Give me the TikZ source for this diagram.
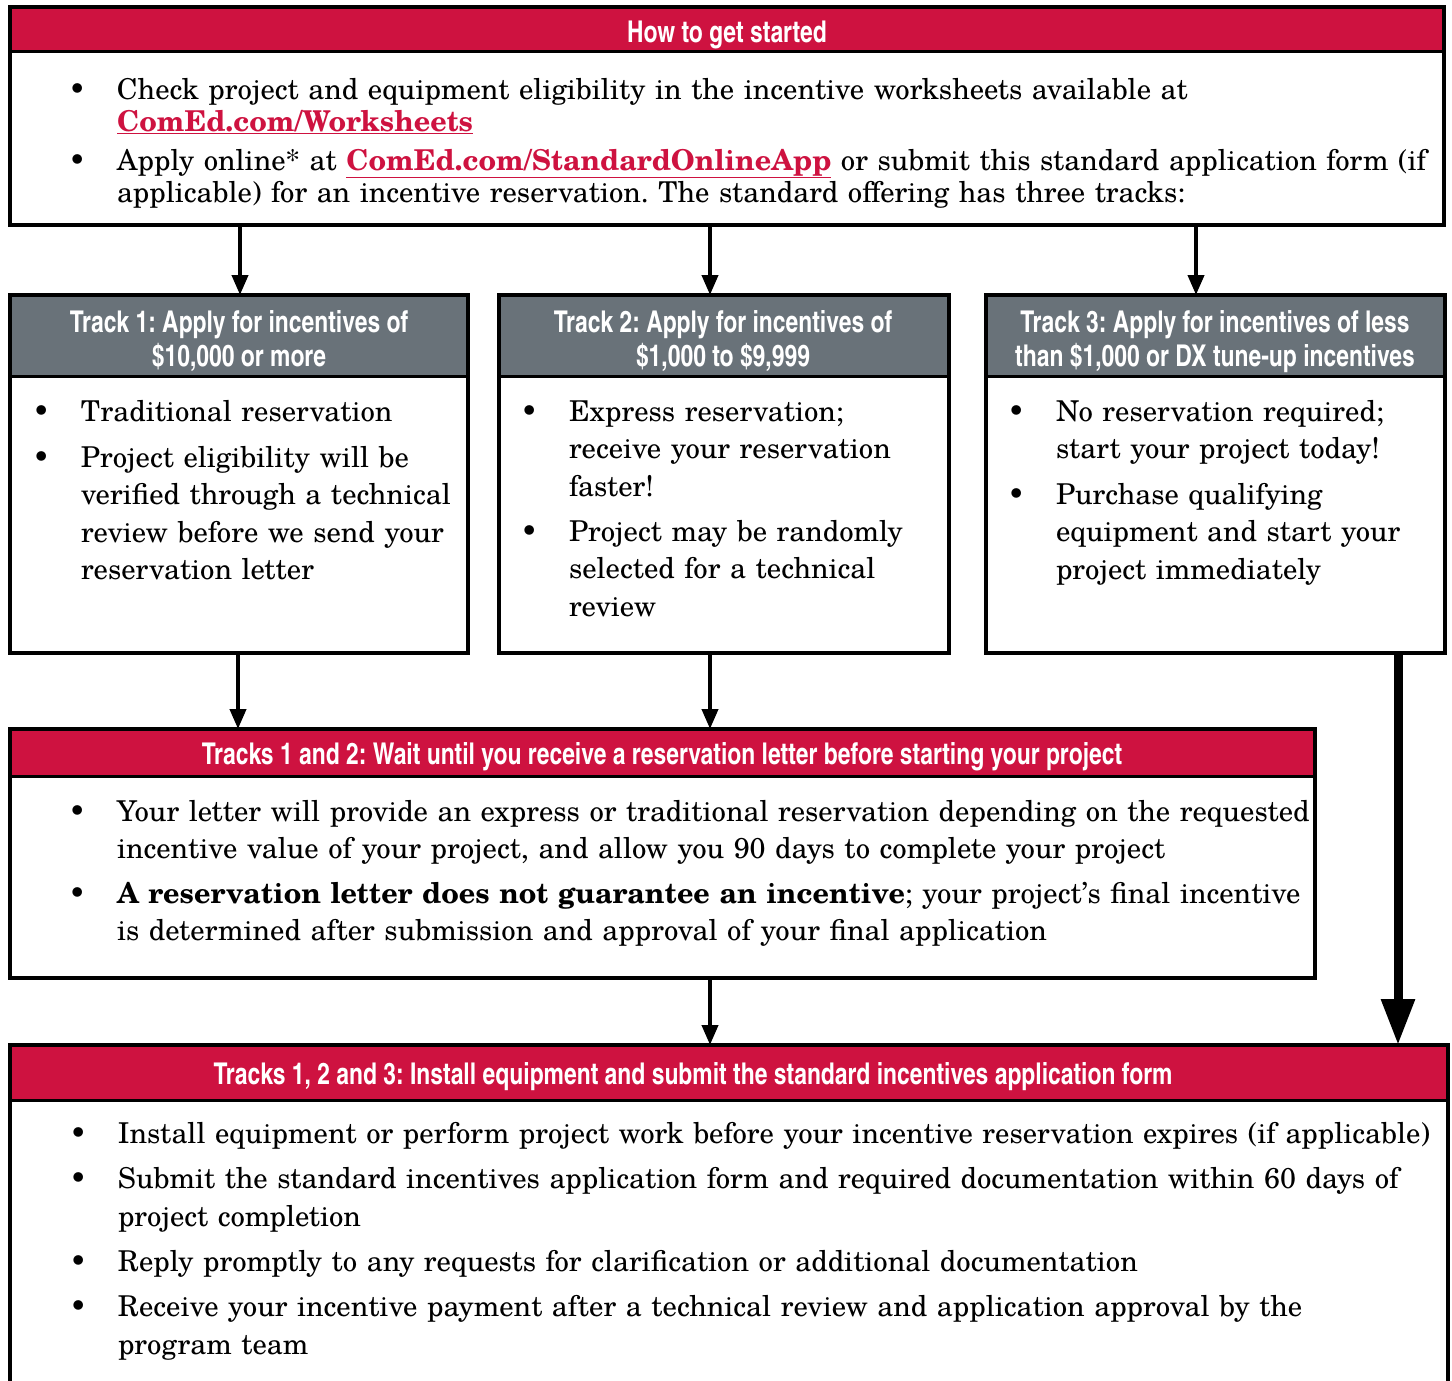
\documentclass[tikz,border=0pt]{standalone}
\usepackage{fontspec}
\setmainfont{texgyreschola}[Extension=.otf, UprightFont=*-regular, BoldFont=*-bold, ItalicFont=*-italic, BoldItalicFont=*-bolditalic]
\newfontfamily\hdrfont{texgyreheroscn}[Extension=.otf, UprightFont=*-bold, FakeStretch=0.93]
\usetikzlibrary{arrows.meta}
\definecolor{crimson}{RGB}{206,18,64}
\definecolor{slate}{RGB}{105,114,121}
\newcommand\comedlink[1]{\textcolor{crimson}{\bfseries\underline{#1}}}
\newcommand\bul{\leavevmode\llap{\textbullet\hspace{31pt}}}
\newcommand\hdrband[3]{%
  \fill[#3] (#1.north west) rectangle ([yshift=-#2pt]#1.north east);
  \draw[line width=3pt] ([yshift=-#2pt]#1.north west) -- ([yshift=-#2pt]#1.north east);
  \draw[line width=4pt] (#1.north west) rectangle (#1.south east);}
\frenchspacing
\begin{document}
\frenchspacing
\begin{tikzpicture}[x=1pt,y=-1pt,
  box/.style={draw, line width=4pt, fill=white, rectangle, anchor=north west, inner sep=0pt, outer sep=0pt},
  hdr/.style={anchor=north, inner sep=0pt, outer sep=0pt, align=center, text=white, font=\hdrfont\frenchspacing\fontsize{30}{31}\selectfont},
  body/.style={anchor=north west, inner sep=0pt, outer sep=0pt, text width=1380pt, align=left, font=\frenchspacing\fontsize{28.7}{37.5}\selectfont},
  arr/.style={line width=4pt, -{Triangle[length=20pt,width=16pt]}},
  bigarr/.style={line width=9pt, -{Triangle[length=46pt,width=32pt]}}]
\useasboundingbox (0,0) rectangle (1452,1381);

% boxes
\node[box, minimum width=1434pt, minimum height=218pt] (top) at (10,7) {};
\hdrband{top}{45}{crimson}
\node[box, minimum width=458pt, minimum height=358pt] (t1) at (10,295) {};
\hdrband{t1}{81}{slate}
\node[box, minimum width=450pt, minimum height=358pt] (t2) at (499,295) {};
\hdrband{t2}{81}{slate}
\node[box, minimum width=459pt, minimum height=358pt] (t3) at (986,295) {};
\hdrband{t3}{81}{slate}
\node[box, minimum width=1305pt, minimum height=249pt] (t12) at (10,729) {};
\hdrband{t12}{47}{crimson}
\node[box, minimum width=1438pt, minimum height=350pt] (bot) at (10,1045) {};
\hdrband{bot}{55}{crimson}

% headers
\node[hdr] (htop) at (727,20.8) {\strut How to get started};
\node[hdr] (ht1) at (239,310.8) {\strut Track 1: Apply for incentives of\\ \$10,000 or more};
\node[hdr] (ht2) at (723,310.8) {\strut Track 2: Apply for incentives of\\ \$1,000 to \$9,999};
\node[hdr] (ht3) at (1215,310.8) {\strut Track 3: Apply for incentives of less\\ than \$1,000 or DX tune-up incentives};
\node[hdr] (ht12) at (662,742.8) {\strut Tracks 1 and 2: Wait until you receive a reservation letter before starting your project};
\node[hdr] (hbot) at (693,1062.8) {\strut Tracks 1, 2 and 3: Install equipment and submit the standard incentives application form};

% top box text
\node[body, font=\fontsize{28.7}{32}\selectfont] (a1) at (117,77.3) {\bul\strut Check project and equipment eligibility in the incentive worksheets available at\\ \comedlink{ComEd.com/Worksheets}};
\node[body, font=\fontsize{28.7}{32}\selectfont] (a2) at (117,148) {\bul\strut Apply online* at \comedlink{ComEd.com/StandardOnlineApp} or submit this standard application form (if\\ applicable) for an incentive reservation. The standard offering has three tracks:};

% track 1
\node[body] (b1) at (81,395) {\bul\strut Traditional reservation};
\node[body] (b2) at (81,441) {\bul\strut Project eligibility will be\\ verified through a technical\\ review before we send your\\ reservation letter};
% track 2
\node[body] (c1) at (569,395) {\bul\strut Express reservation;\\ receive your reservation\\ faster!};
\node[body] (c2) at (569,515) {\bul\strut Project may be randomly\\ selected for a technical\\ review};
% track 3
\node[body] (d1) at (1056,395) {\bul\strut No reservation required;\\ start your project today!};
\node[body] (d2) at (1056,478) {\bul\strut Purchase qualifying\\ equipment and start your\\ project immediately};

% tracks 1 and 2
\node[body, font=\fontsize{28.7}{37}\selectfont] (e1) at (117,795.4) {\bul\strut Your letter will provide an express or traditional reservation depending on the requested\\ incentive value of your project, and allow you 90 days to complete your project};
\node[body, font=\fontsize{28.7}{37}\selectfont] (e2) at (117,877.4) {\bul\strut \textbf{A reservation letter does not guarantee an incentive}; your project’s final incentive\\ is determined after submission and approval of your final application};

% bottom
\node[body, font=\fontsize{28.7}{38}\selectfont] (f1) at (118,1116.8) {\bul\strut Install equipment or perform project work before your incentive reservation expires (if applicable)};
\node[body, font=\fontsize{28.7}{38}\selectfont] (f2) at (118,1161.8) {\bul\strut Submit the standard incentives application form and required documentation within 60 days of\\ project completion};
\node[body, font=\fontsize{28.7}{38}\selectfont] (f3) at (118,1244.8) {\bul\strut Reply promptly to any requests for clarification or additional documentation};
\node[body, font=\fontsize{28.7}{38}\selectfont] (f4) at (118,1289.8) {\bul\strut Receive your incentive payment after a technical review and application approval by the\\ program team};

% connectors
\coordinate (xa) at (240,0);
\coordinate (xb) at (710,0);
\coordinate (xc) at (1196,0);
\coordinate (xd) at (238,0);
\coordinate (xe) at (1398,0);
\draw[arr] (top.south -| xa) -- (t1.north -| xa);
\draw[arr] (top.south -| xb) -- (t2.north -| xb);
\draw[arr] (top.south -| xc) -- (t3.north -| xc);
\draw[arr] (t1.south -| xd) -- (t12.north -| xd);
\draw[arr] (t2.south -| xb) -- (t12.north -| xb);
\draw[arr] (t12.south -| xb) -- (bot.north -| xb);
\draw[bigarr] (t3.south -| xe) -- (bot.north -| xe);
\end{tikzpicture}
\end{document}
